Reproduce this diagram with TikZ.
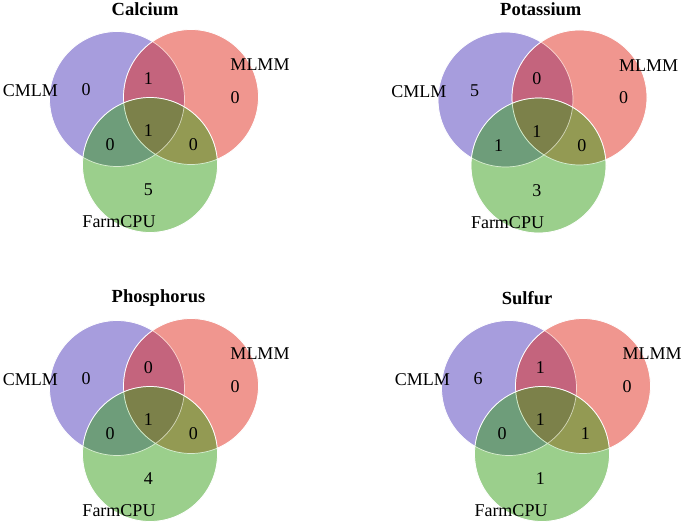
\documentclass[tikz,border=0pt]{standalone}
\usepackage{fontspec}
\setmainfont{Liberation Serif}
\definecolor{cmlmcol}{RGB}{79,59,187}
\definecolor{mlmmcol}{RGB}{225,45,31}
\definecolor{farmcol}{RGB}{55,159,25}

\begin{document}
\begin{tikzpicture}[x=1pt, y=-1pt,
  set/.style={draw=white, line width=0.7pt, fill opacity=0.5},
  lbl/.style={inner sep=0pt, font=\fontsize{18}{20}\selectfont},
  num/.style={inner sep=0pt, font=\fontsize{18}{20}\selectfont},
  ttl/.style={inner sep=0pt, anchor=west, font=\fontsize{18.5}{20}\selectfont\bfseries}]
  \useasboundingbox (0,0) rectangle (685,524);

  % Calcium
  \begin{scope}
    \fill[set, fill=cmlmcol] (117,99) circle[radius=67.5pt];
    \fill[set, fill=mlmmcol] (191,97) circle[radius=67.5pt];
    \fill[set, fill=farmcol] (150,165) circle[radius=67.5pt];
    \draw[white, line width=0.7pt, opacity=0.6] (117,99) circle[radius=67.5pt] (191,97) circle[radius=67.5pt] (150,165) circle[radius=67.5pt];
    \node[ttl] (ca-title) at (111.5,9.5) {Calcium};
    \node[lbl] (ca-cmlm) at (30.3,90.7) {CMLM};
    \node[lbl] (ca-mlmm) at (260,65) {MLMM};
    \node[lbl] (ca-farm) at (119,221.7) {FarmCPU};
    \node[num] (ca-a) at (86,90) {0};
    \node[num] (ca-ab) at (148.3,78.3) {1};
    \node[num] (ca-b) at (235,97.3) {0};
    \node[num] (ca-abc) at (148.3,130.7) {1};
    \node[num] (ca-ac) at (110,145) {0};
    \node[num] (ca-bc) at (193.3,145) {0};
    \node[num] (ca-c) at (148.3,190) {5};
  \end{scope}

  % Potassium
  \begin{scope}[shift={(388.5,0.5)}]
    \fill[set, fill=cmlmcol] (117,99) circle[radius=67.5pt];
    \fill[set, fill=mlmmcol] (191,97) circle[radius=67.5pt];
    \fill[set, fill=farmcol] (150,165) circle[radius=67.5pt];
    \draw[white, line width=0.7pt, opacity=0.6] (117,99) circle[radius=67.5pt] (191,97) circle[radius=67.5pt] (150,165) circle[radius=67.5pt];
    \node[ttl] (k-title) at (111.5,9) {Potassium};
    \node[lbl] (k-cmlm) at (30.3,90.7) {CMLM};
    \node[lbl] (k-mlmm) at (260,65) {MLMM};
    \node[lbl] (k-farm) at (119,221.7) {FarmCPU};
    \node[num] (k-a) at (86,90) {5};
    \node[num] (k-ab) at (148.3,78.3) {0};
    \node[num] (k-b) at (235,97.3) {0};
    \node[num] (k-abc) at (148.3,130.7) {1};
    \node[num] (k-ac) at (110,145) {1};
    \node[num] (k-bc) at (193.3,145) {0};
    \node[num] (k-c) at (148.3,190) {3};
  \end{scope}

  % Phosphorus
  \begin{scope}[shift={(0,289)}]
    \fill[set, fill=cmlmcol] (117,99) circle[radius=67.5pt];
    \fill[set, fill=mlmmcol] (191,97) circle[radius=67.5pt];
    \fill[set, fill=farmcol] (150,165) circle[radius=67.5pt];
    \draw[white, line width=0.7pt, opacity=0.6] (117,99) circle[radius=67.5pt] (191,97) circle[radius=67.5pt] (150,165) circle[radius=67.5pt];
    \node[ttl] (p-title) at (111.5,9) {Phosphorus};
    \node[lbl] (p-cmlm) at (30.3,90.7) {CMLM};
    \node[lbl] (p-mlmm) at (260,65) {MLMM};
    \node[lbl] (p-farm) at (119,221.7) {FarmCPU};
    \node[num] (p-a) at (86,90) {0};
    \node[num] (p-ab) at (148.3,78.3) {0};
    \node[num] (p-b) at (235,97.3) {0};
    \node[num] (p-abc) at (148.3,130.7) {1};
    \node[num] (p-ac) at (110,145) {0};
    \node[num] (p-bc) at (193.3,145) {0};
    \node[num] (p-c) at (148.3,190) {4};
  \end{scope}

  % Sulfur
  \begin{scope}[shift={(392,289)}]
    \fill[set, fill=cmlmcol] (117,99) circle[radius=67.5pt];
    \fill[set, fill=mlmmcol] (191,97) circle[radius=67.5pt];
    \fill[set, fill=farmcol] (150,165) circle[radius=67.5pt];
    \draw[white, line width=0.7pt, opacity=0.6] (117,99) circle[radius=67.5pt] (191,97) circle[radius=67.5pt] (150,165) circle[radius=67.5pt];
    \node[ttl] (s-title) at (109.7,9) {Sulfur};
    \node[lbl] (s-cmlm) at (30.3,90.7) {CMLM};
    \node[lbl] (s-mlmm) at (260,65) {MLMM};
    \node[lbl] (s-farm) at (119,221.7) {FarmCPU};
    \node[num] (s-a) at (86,90) {6};
    \node[num] (s-ab) at (148.3,78.3) {1};
    \node[num] (s-b) at (235,97.3) {0};
    \node[num] (s-abc) at (148.3,130.7) {1};
    \node[num] (s-ac) at (110,145) {0};
    \node[num] (s-bc) at (193.3,145) {1};
    \node[num] (s-c) at (148.3,190) {1};
  \end{scope}
\end{tikzpicture}
\end{document}
